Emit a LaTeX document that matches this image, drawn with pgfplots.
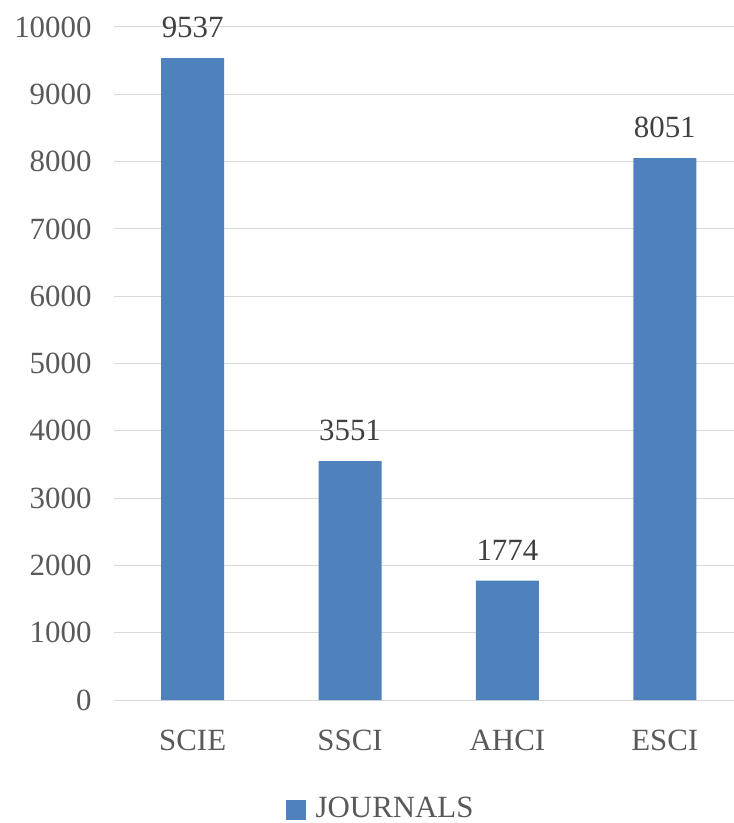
\documentclass[border=0pt]{standalone}
\usepackage{pgfplots}
\pgfplotsset{compat=1.18}
\usepackage{fontspec}
\setmainfont{Liberation Serif}
\definecolor{barblue}{HTML}{4F81BD}
\definecolor{gridgray}{HTML}{D9D9D9}
\definecolor{ticktext}{HTML}{595959}
\definecolor{labeltext}{HTML}{404040}
\begin{document}
\fontsize{31}{36}\selectfont
\begin{tikzpicture}
\begin{axis}[
  scale only axis,
  width=620bp, height=673bp,
  xmin=-0.5, xmax=3.44,
  ymin=0, ymax=10000,
  ytick={0,1000,...,10000},
  scaled y ticks=false,
  xtick={0,1,2,3},
  xticklabels={SCIE,SSCI,AHCI,ESCI},
  /pgf/number format/assume math mode=true,
  /pgf/number format/1000 sep={},
  yticklabel style={color=ticktext, font=\fontsize{31}{36}\selectfont, xshift=-12bp},
  xticklabel style={color=ticktext, font=\fontsize{31}{36}\selectfont, yshift=-20bp},
  major tick length=0pt,
  axis line style={draw=none},
  ymajorgrids,
  grid style={gridgray, line width=1bp},
  ybar, bar width=63bp,
  nodes near coords,
  nodes near coords style={color=labeltext, font=\fontsize{31}{36}\selectfont, yshift=10bp, /pgf/number format/assume math mode=true},
  legend style={at={(0.43,-0.163)}, anchor=center, draw=none, fill=none, font=\fontsize{31}{36}\selectfont, text=ticktext, legend cell align=left},
  legend image code/.code={\fill[barblue] (0bp,-10bp) rectangle (20bp,10bp);},
  clip=false,
]
\addplot[fill=barblue, draw=none] coordinates {(0,9537) (1,3551) (2,1774) (3,8051)};
\addlegendentry{\hspace{8bp}JOURNALS}
\end{axis}
\pgfresetboundingbox
\path (-114bp,-123bp) rectangle (620bp,700bp);
\end{tikzpicture}
\end{document}
